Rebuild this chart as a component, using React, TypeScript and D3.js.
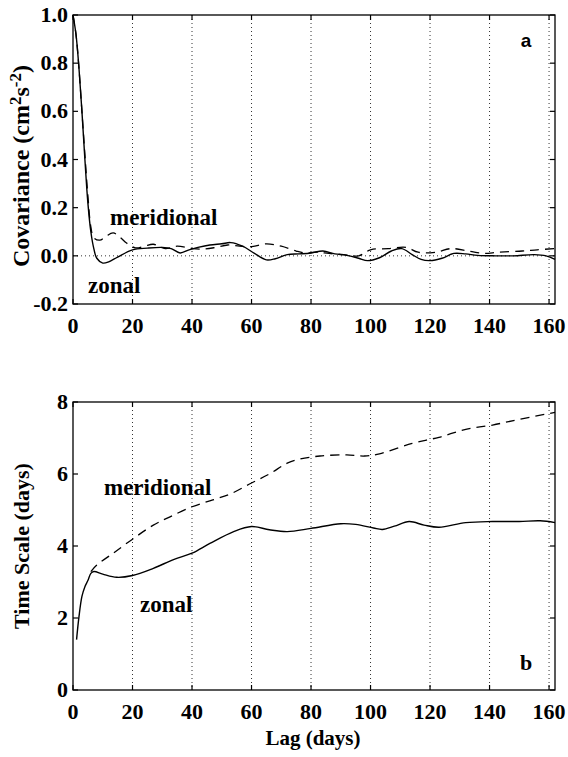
import React from "react";
import * as d3 from "d3";

// ---------- data ----------
const xTicks = [0, 20, 40, 60, 80, 100, 120, 140, 160];
const covTicks = [-0.2, 0.0, 0.2, 0.4, 0.6, 0.8, 1.0];
const covTickLabels = ["-0.2", "0.0", "0.2", "0.4", "0.6", "0.8", "1.0"];
const tsTicks = [0, 2, 4, 6, 8];
const tsTickLabels = ["0", "2", "4", "6", "8"];

const zonalCovLag = [0, 1, 2, 3, 4, 5, 6, 7, 8, 10, 12, 15, 20, 25, 30, 33, 36, 39, 42, 46, 50, 53, 57, 61, 65, 68, 72, 76, 80, 84, 88, 92, 96, 99, 103, 107, 110.5, 114, 117, 120, 124, 128, 132, 136, 142, 148, 155, 159, 162];
const zonalCov = [1.0, 0.92, 0.78, 0.6, 0.4, 0.22, 0.1, 0.03, -0.01, -0.03, -0.025, -0.005, 0.025, 0.032, 0.035, 0.03, 0.012, 0.025, 0.035, 0.045, 0.05, 0.055, 0.04, 0.01, -0.017, -0.012, 0.005, 0.008, 0.012, 0.02, 0.008, 0.002, -0.01, -0.02, -0.008, 0.02, 0.03, 0.005, -0.015, -0.02, -0.01, 0.01, 0.008, 0.002, 0.0, 0.0, 0.005, 0.0, -0.015];

const meridCovLag = [0, 1, 2, 3, 4, 5, 6, 7, 9, 11, 13.5, 16, 18, 21, 24, 27, 31, 35, 40, 44, 48, 52, 56, 60, 65, 70, 75, 78, 82, 86, 91, 96, 100, 106, 112, 116, 122, 127, 133, 138, 143, 151, 156, 162];
const meridCov = [1.0, 0.92, 0.78, 0.6, 0.42, 0.25, 0.12, 0.075, 0.065, 0.08, 0.095, 0.075, 0.053, 0.033, 0.04, 0.048, 0.03, 0.04, 0.03, 0.028, 0.035, 0.045, 0.04, 0.038, 0.05, 0.04, 0.02, 0.012, 0.015, 0.01, 0.005, 0.0, 0.025, 0.03, 0.035, 0.015, 0.015, 0.03, 0.02, 0.01, 0.015, 0.02, 0.025, 0.03];

const zonalTsLag = [1.2, 2, 3, 4, 5, 6, 7, 10, 14.7, 20, 27, 34, 40, 46, 54, 60, 66, 72, 80, 90, 95, 101, 104, 108, 113, 118, 123, 132, 141, 150, 157, 162];
const zonalTs = [1.4, 2.03, 2.6, 2.87, 3.04, 3.24, 3.29, 3.22, 3.13, 3.18, 3.38, 3.63, 3.8, 4.07, 4.4, 4.54, 4.45, 4.4, 4.49, 4.62, 4.6, 4.5, 4.46, 4.55, 4.68, 4.58, 4.52, 4.65, 4.68, 4.68, 4.7, 4.65];

const meridTsLag = [6, 8, 13.5, 20, 27, 32.6, 40, 47, 53, 60, 66, 72, 76, 83, 92, 98, 103, 114, 123, 132, 141, 150, 162];
const meridTs = [3.29, 3.47, 3.8, 4.19, 4.58, 4.81, 5.09, 5.28, 5.45, 5.75, 6.0, 6.3, 6.41, 6.5, 6.53, 6.5, 6.56, 6.85, 7.02, 7.24, 7.36, 7.52, 7.71];

// ---------- layout ----------
const W = 568;
const H = 757;
const left = 73;
const right = 555;
const topA = 15;
const botA = 304;
const topB = 402;
const botB = 690;
const font = "'Liberation Serif', 'Times New Roman', serif";

const x = d3.scaleLinear().domain([0, 162]).range([left, right]);
const yA = d3.scaleLinear().domain([-0.2, 1.0]).range([botA, topA]);
const yB = d3.scaleLinear().domain([0, 8]).range([botB, topB]);

function pts(lags: number[], vals: number[]): [number, number][] {
  return lags.map((l, i) => [l, vals[i]]);
}

function Panel({ y, ticks, labels, top, bot, zeroLine }: any) {
  const tl = 5;
  return (
    <g>
      {xTicks.filter((t) => t > 0).map((t) => (
        <line key={"g" + t} x1={x(t)} x2={x(t)} y1={top} y2={bot} stroke="#333" strokeWidth={1} strokeDasharray="1,3" />
      ))}
      {zeroLine && (
        <line x1={left} x2={right} y1={y(0)} y2={y(0)} stroke="#333" strokeWidth={1} strokeDasharray="1,3" />
      )}
      {xTicks.map((t) => (
        <g key={"xt" + t}>
          <line x1={x(t)} x2={x(t)} y1={bot} y2={bot - tl} stroke="#000" strokeWidth={1.2} />
          <line x1={x(t)} x2={x(t)} y1={top} y2={top + tl} stroke="#000" strokeWidth={1.2} />
          <text x={x(t)} y={bot + 29} textAnchor="middle" fontFamily={font} fontWeight="bold" fontSize={22}>{t}</text>
        </g>
      ))}
      {ticks.map((t: number, i: number) => (
        <g key={"yt" + t}>
          <line x1={left} x2={left + tl} y1={y(t)} y2={y(t)} stroke="#000" strokeWidth={1.2} />
          <line x1={right} x2={right - tl} y1={y(t)} y2={y(t)} stroke="#000" strokeWidth={1.2} />
          <text x={68} y={y(t) + 7} textAnchor="end" fontFamily={font} fontWeight="bold" fontSize={22}>{labels[i]}</text>
        </g>
      ))}
      <rect x={left} y={top} width={right - left} height={bot - top} fill="none" stroke="#000" strokeWidth={1.3} />
    </g>
  );
}

export default function App() {
  const line = d3.line<[number, number]>().curve(d3.curveCatmullRom.alpha(0.5));
  const lineA = (lags: number[], vals: number[]) =>
    line.x((d) => x(d[0])).y((d) => yA(d[1]))(pts(lags, vals)) || "";
  const lineB = (lags: number[], vals: number[]) =>
    line.x((d) => x(d[0])).y((d) => yB(d[1]))(pts(lags, vals)) || "";

  return (
    <svg width={W} height={H} style={{ position: "absolute", left: 0, top: 0, background: "#fff" }}>
      <rect x={0} y={0} width={W} height={H} fill="#fff" />
      {/* Panel a */}
      <Panel y={yA} ticks={covTicks} labels={covTickLabels} top={topA} bot={botA} zeroLine={true} />
      <path d={lineA(meridCovLag, meridCov)} fill="none" stroke="#000" strokeWidth={1.3} strokeDasharray="9,6" />
      <path d={lineA(zonalCovLag, zonalCov)} fill="none" stroke="#000" strokeWidth={1.4} />
      <text x={110} y={225} fontFamily={font} fontWeight="bold" fontSize={23}>meridional</text>
      <text x={88} y={293} fontFamily={font} fontWeight="bold" fontSize={23}>zonal</text>
      <text x={526} y={47} textAnchor="middle" fontFamily="'Liberation Sans', Arial, sans-serif" fontWeight="bold" fontSize={19}>a</text>
      <text transform={`translate(29,166) rotate(-90)`} textAnchor="middle" fontFamily={font} fontWeight="bold" fontSize={24}>
        Covariance (cm<tspan dy={-8} fontSize={17}>2</tspan><tspan dy={8}>s</tspan><tspan dy={-8} fontSize={17}>-2</tspan><tspan dy={8}>)</tspan>
      </text>

      {/* Panel b */}
      <Panel y={yB} ticks={tsTicks} labels={tsTickLabels} top={topB} bot={botB} zeroLine={false} />
      <path d={lineB(meridTsLag, meridTs)} fill="none" stroke="#000" strokeWidth={1.3} strokeDasharray="9,6" />
      <path d={lineB(zonalTsLag, zonalTs)} fill="none" stroke="#000" strokeWidth={1.4} />
      <text x={104} y={495} fontFamily={font} fontWeight="bold" fontSize={23}>meridional</text>
      <text x={140} y={612} fontFamily={font} fontWeight="bold" fontSize={23}>zonal</text>
      <text x={526} y={670} textAnchor="middle" fontFamily={font} fontWeight="bold" fontSize={22}>b</text>
      <text transform={`translate(29,546) rotate(-90)`} textAnchor="middle" fontFamily={font} fontWeight="bold" fontSize={22}>
        Time Scale (days)
      </text>
      <text x={313} y={745} textAnchor="middle" fontFamily={font} fontWeight="bold" fontSize={21}>Lag (days)</text>
    </svg>
  );
}
